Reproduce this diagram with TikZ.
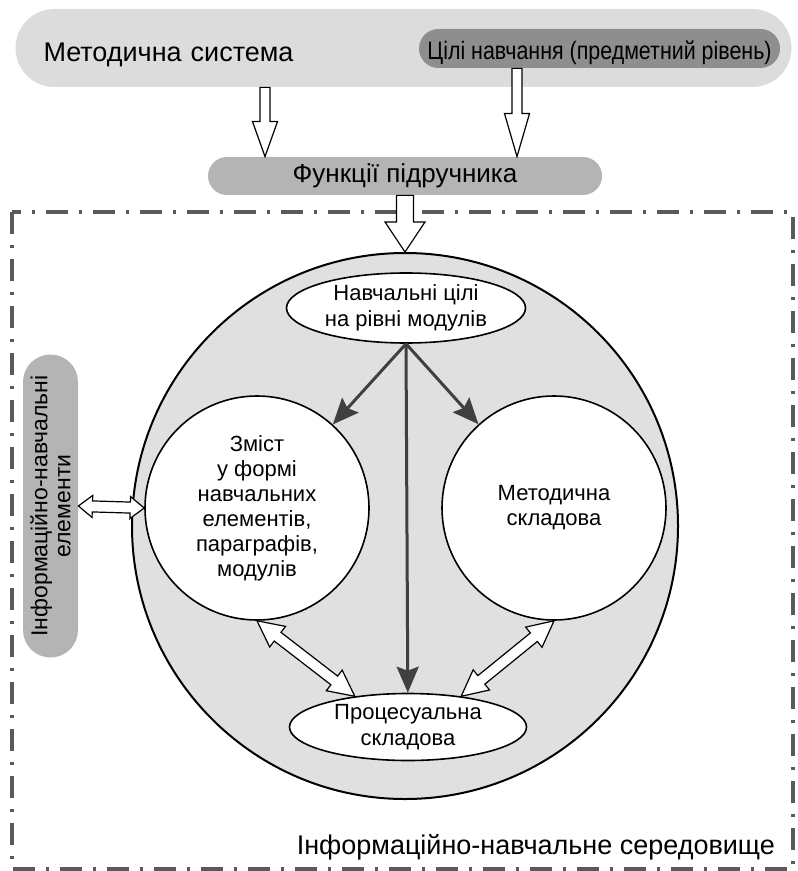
\documentclass[tikz,border=0pt]{standalone}
\usepackage{fontspec}
\setmainfont{Liberation Sans}
\newfontfamily\narrowfont{Liberation Sans}[FakeStretch=0.85]
\usepackage{tikz}
\usetikzlibrary{positioning}
\usetikzlibrary{calc}
\usetikzlibrary{shapes.geometric, arrows.meta, positioning}

\definecolor{pilllight}{HTML}{DCDCDC}
\definecolor{pilldark}{HTML}{8E8E8E}
\definecolor{pillmid}{HTML}{B4B4B4}
\definecolor{envgray}{HTML}{E0E0E0}
\definecolor{framegray}{HTML}{5A5A5A}
\definecolor{arrowgray}{HTML}{404040}

\tikzset{
    pill/.style={rectangle, inner sep=0pt},
    hollow/.style={draw=black, fill=white, line width=0.6pt, line join=miter},
    goalarrow/.style={draw=arrowgray, line width=1.5pt, -{Stealth[length=13pt, width=11pt, inset=2pt]}},
    frame/.style={draw=framegray, line width=1.8pt, dash pattern=on 11pt off 5.5pt on 1.5pt off 5.5pt},
    part/.style={circle, draw, fill=white, line width=0.8pt, minimum size=112pt, inner sep=0pt, align=center, font=\fontsize{11}{12.5}\selectfont},
    oval/.style={ellipse, draw, fill=white, line width=0.8pt, inner sep=0pt, align=center, font=\fontsize{11}{13}\selectfont}
}

% hollow block arrow: tail, tip, shaft half-width, head half-width, head length
\newcommand{\hollowarrow}[5]{%
    \coordinate (ha-tail) at (#1);
    \coordinate (ha-tip) at (#2);
    \coordinate (ha-base) at ($(ha-tip)!#5!(ha-tail)$);
    \draw[hollow] ($(ha-tail)!#3!90:(ha-tip)$) -- ($(ha-base)!#3!90:(ha-tip)$)
        -- ($(ha-base)!#4!90:(ha-tip)$) -- (ha-tip) -- ($(ha-base)!#4!-90:(ha-tip)$)
        -- ($(ha-base)!#3!-90:(ha-tip)$) -- ($(ha-tail)!#3!-90:(ha-tip)$) -- cycle;
}
\newcommand{\twowayarrow}[5]{%
    \coordinate (ha-a) at (#1);
    \coordinate (ha-b) at (#2);
    \coordinate (ha-ba) at ($(ha-a)!#5!(ha-b)$);
    \coordinate (ha-bb) at ($(ha-b)!#5!(ha-a)$);
    \draw[hollow] (ha-a) -- ($(ha-ba)!#4!90:(ha-b)$) -- ($(ha-ba)!#3!90:(ha-b)$)
        -- ($(ha-bb)!#3!90:(ha-b)$) -- ($(ha-bb)!#4!90:(ha-b)$) -- (ha-b)
        -- ($(ha-bb)!#4!-90:(ha-b)$) -- ($(ha-bb)!#3!-90:(ha-b)$)
        -- ($(ha-ba)!#3!-90:(ha-b)$) -- ($(ha-ba)!#4!-90:(ha-b)$) -- cycle;
}

\begin{document}
\begin{tikzpicture}[x=0.5pt, y=-0.5pt]
    % textbook model inside the information-learning environment
    \useasboundingbox (0, 0) rectangle (797, 871);

    \node (system) [pill, fill=pilllight, rounded corners=19.5pt, minimum height=39pt, text width=360pt, inner xsep=14pt, text height=13.5pt, text depth=0pt, align=left, font=\fontsize{13.5}{16}\selectfont] at (403.5, 48) {Методична система};
    \node (goals) [pill, fill=pilldark, rounded corners=9.75pt, minimum width=180.5pt, minimum height=19.5pt, text height=11pt, text depth=0pt, font=\narrowfont\fontsize{12.6}{14}\selectfont] at (599.5, 48.5) {Цілі навчання (предметний рівень)};
    \node (functions) [pill, fill=pillmid, rounded corners=9.5pt, minimum width=197pt, minimum height=19pt, font=\fontsize{13}{15}\selectfont] at (405, 176) {Функції підручника};

    \draw[frame] (12, 212) rectangle (793, 869);

    \node (env) [circle, draw, fill=envgray, line width=1pt, minimum size=273pt, inner sep=0pt] at (405, 526) {};
    \node (moduleaims) [oval, minimum width=119.5pt, minimum height=35pt] at (406, 308) {Навчальні цілі\\на рівні модулів};
    \node (content) [part] at (257, 508) {Зміст\\у формі\\навчальних\\елементів,\\параграфів,\\модулів};
    \node (method) [part] at (554, 508) {Методична\\складова};
    \node (process) [oval, minimum width=118.5pt, minimum height=33.5pt] at (408, 727) {Процесуальна\\складова};
    \node (infoel) [pill, fill=pillmid, rotate=90, rounded corners=13.75pt, minimum width=151.5pt, minimum height=27.5pt, align=center, font=\fontsize{11.5}{11.5}\selectfont] at (50.5, 506) {Інформаційно-навчальні\\елементи};
    \node (envlabel) [anchor=east, font=\fontsize{13.5}{15}\selectfont] at (782, 847) {Інформаційно-навчальне середовище};

    \coordinate (sysout) at (265, 0 |- system.south);
    \coordinate (funcin1) at (265, 0 |- functions.north);
    \coordinate (goalsout) at (517, 0 |- goals.south);
    \coordinate (funcin2) at (517, 0 |- functions.north);

    \hollowarrow{sysout}{funcin1}{2.5pt}{6.25pt}{17.5pt}
    \hollowarrow{goalsout}{funcin2}{2.5pt}{6.25pt}{21.5pt}
    \hollowarrow{functions.south}{env.north}{4.25pt}{10pt}{15pt}

    \draw[goalarrow] (moduleaims.south) -- (content);
    \draw[goalarrow] (moduleaims.south) -- (method);
    \draw[goalarrow] (moduleaims.south) -- (process);

    \twowayarrow{content.south}{process.150}{2.75pt}{6.5pt}{13pt}
    \twowayarrow{method.south}{process.30}{2.75pt}{6.5pt}{13pt}
    \twowayarrow{infoel.south}{content.west}{2.75pt}{5.5pt}{7pt}

\end{tikzpicture}
\end{document}
